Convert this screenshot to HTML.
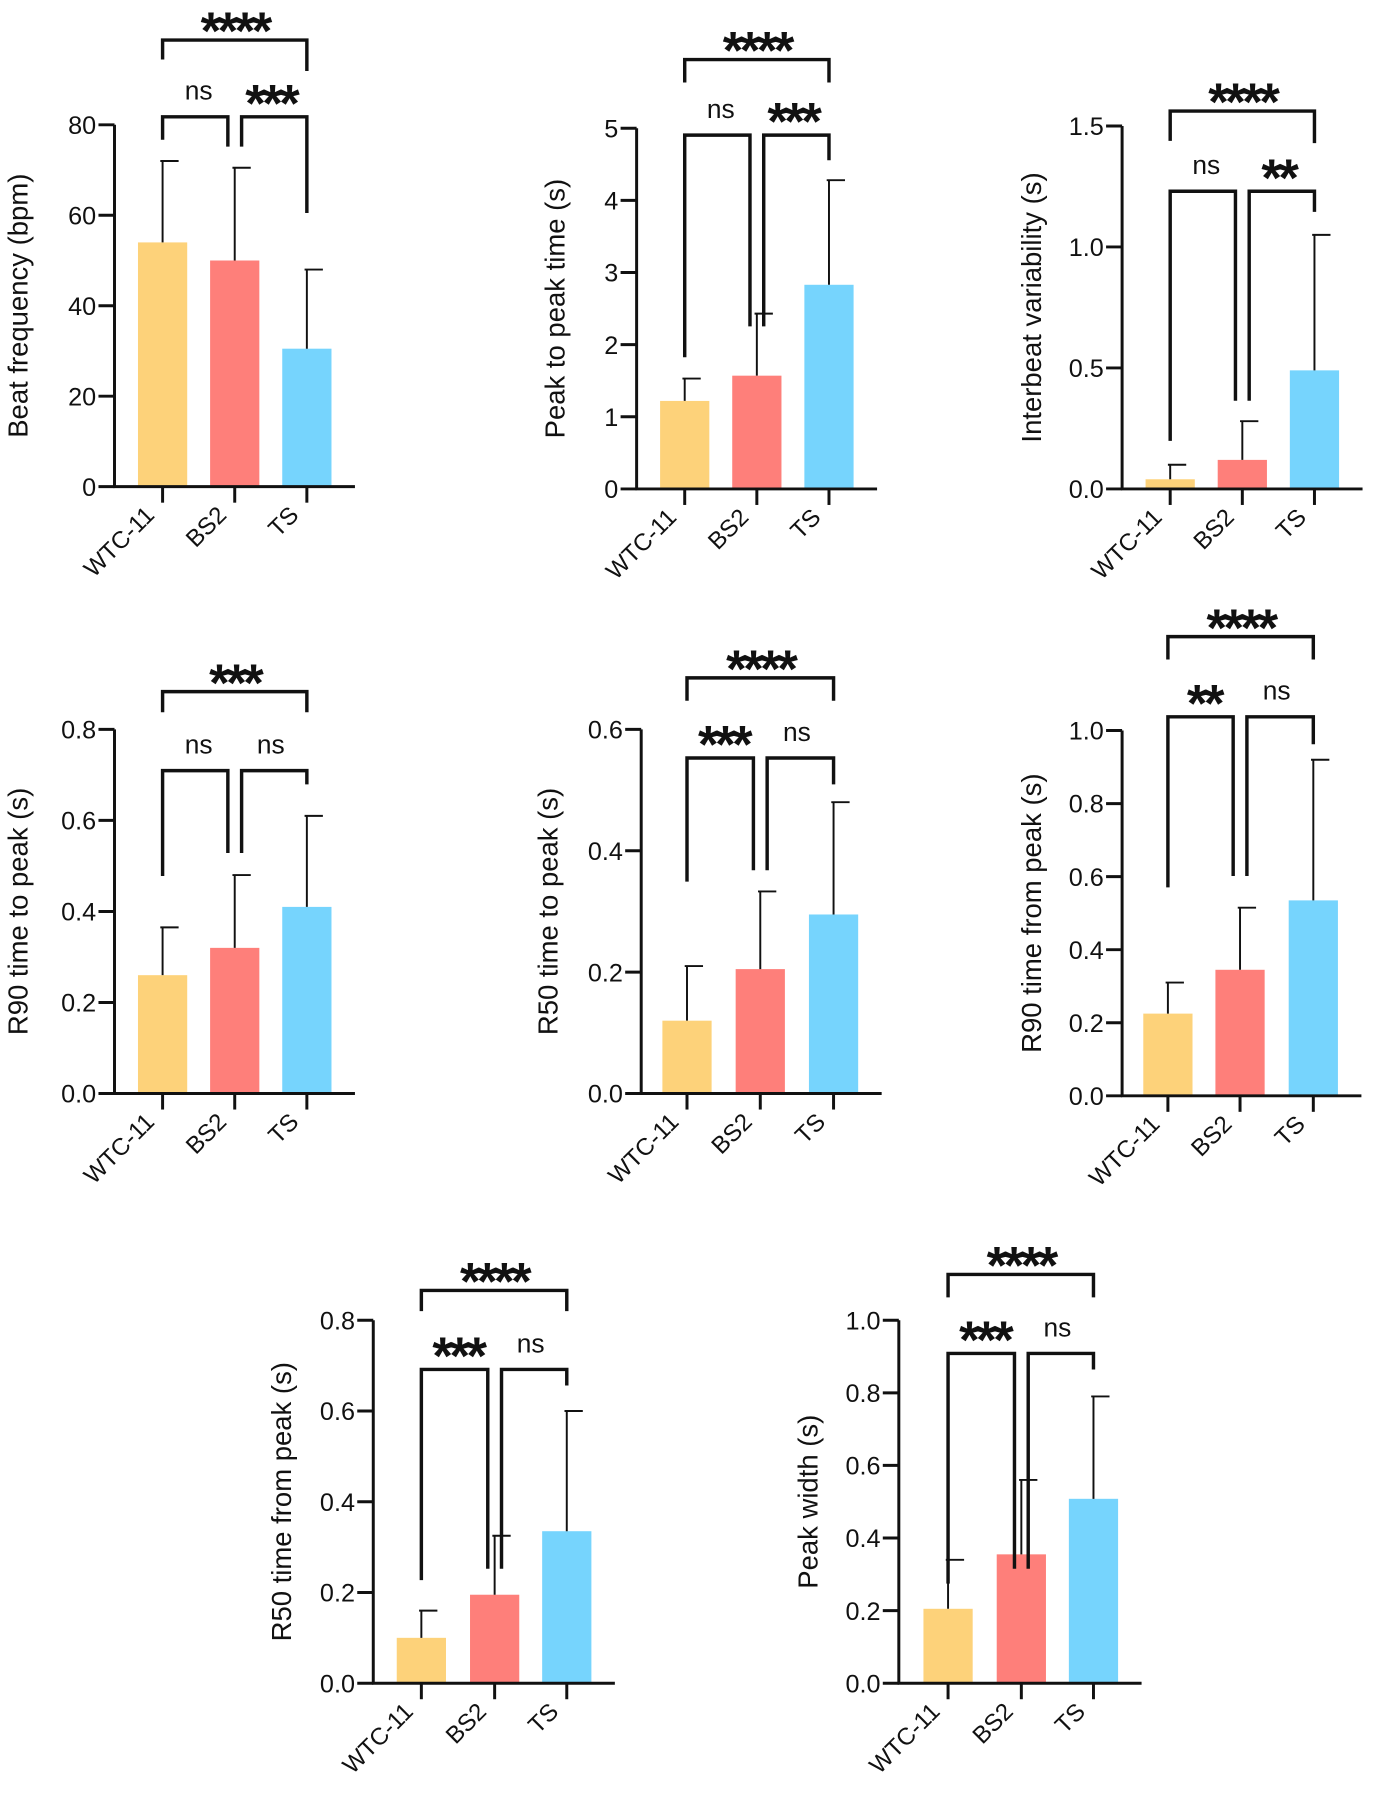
<!DOCTYPE html>
<html><head><meta charset="utf-8"><style>
html,body{margin:0;padding:0;background:#fff;}
svg{display:block;}
text{font-family:"Liberation Sans",sans-serif;fill:#111;}
</style></head><body>
<svg id="fig" width="1374" height="1800" viewBox="0 0 1200 1572" preserveAspectRatio="none" xmlns="http://www.w3.org/2000/svg"></svg>
<script>
const groups = ["WTC-11","BS2","TS"];
const colors = ["#FDD27A","#FE7F7A","#76D4FD"];
// series values (means) per panel
const meansBeat = [54, 50, 30.5];
const errsBeat = [72, 70.5, 48];
const meansP2P = [1.22, 1.57, 2.83];
const errsP2P = [1.53, 2.43, 4.28];
const meansIBV = [0.04, 0.12, 0.49];
const errsIBV = [0.1, 0.28, 1.05];
const meansR90to = [0.26, 0.32, 0.41];
const errsR90to = [0.365, 0.48, 0.61];
const meansR50to = [0.12, 0.205, 0.295];
const errsR50to = [0.21, 0.333, 0.48];
const meansR90from = [0.225, 0.345, 0.535];
const errsR90from = [0.31, 0.515, 0.92];
const meansR50from = [0.1, 0.195, 0.335];
const errsR50from = [0.16, 0.325, 0.6];
const meansWidth = [0.205, 0.355, 0.508];
const errsWidth = [0.34, 0.56, 0.79];
// tick labels
const ticksBeat = ["0","20","40","60","80"];
const ticksP2P = ["0","1","2","3","4","5"];
const ticksIBV = ["0.0","0.5","1.0","1.5"];
const ticks08 = ["0.0","0.2","0.4","0.6","0.8"];
const ticks06 = ["0.0","0.2","0.4","0.6"];
const ticks10 = ["0.0","0.2","0.4","0.6","0.8","1.0"];
// significance labels: [top, left pair, right pair]
const sigBeat = ["****","ns","***"];
const sigP2P = ["****","ns","***"];
const sigIBV = ["****","ns","**"];
const sigR90to = ["***","ns","ns"];
const sigR50to = ["****","***","ns"];
const sigR90from = ["****","**","ns"];
const sigR50from = ["****","***","ns"];
const sigWidth = ["****","***","ns"];

// layout (pixels in 1200x1572 frame)
const panels = [
 {name:"beat-frequency", label:"Beat frequency (bpm)", ax:100, y0:425, yt:109, c:[142,205,268], ticks:ticksBeat, means:meansBeat, errs:errsBeat, sig:sigBeat, top:35, topLegs:[52,62], low:102, legs:[122,128,128,186], lx:15},
 {name:"peak-to-peak", label:"Peak to peak time (s)", ax:556, y0:427, yt:112, c:[598,661,724], ticks:ticksP2P, means:meansP2P, errs:errsP2P, sig:sigP2P, top:52, topLegs:[72,72], low:118, legs:[312,285,285,140], lx:484},
 {name:"interbeat-variability", label:"Interbeat variability (s)", ax:980, y0:427, yt:110, c:[1022,1085,1148], ticks:ticksIBV, means:meansIBV, errs:errsIBV, sig:sigIBV, top:97, topLegs:[123,125], low:167, legs:[385,350,350,185], lx:900},
 {name:"r90-time-to-peak", label:"R90 time to peak (s)", ax:100, y0:955, yt:637, c:[142,205,268], ticks:ticks08, means:meansR90to, errs:errsR90to, sig:sigR90to, top:604, topLegs:[622,622], low:673, legs:[765,745,745,685], lx:15},
 {name:"r50-time-to-peak", label:"R50 time to peak (s)", ax:560, y0:955, yt:637, c:[600,664,728], ticks:ticks06, means:meansR50to, errs:errsR50to, sig:sigR50to, top:592, topLegs:[612,612], low:662, legs:[770,760,760,685], lx:478},
 {name:"r90-time-from-peak", label:"R90 time from peak (s)", ax:980, y0:957, yt:638, c:[1020,1083,1147], ticks:ticks10, means:meansR90from, errs:errsR90from, sig:sigR90from, top:556, topLegs:[576,576], low:626, legs:[775,765,765,650], lx:900},
 {name:"r50-time-from-peak", label:"R50 time from peak (s)", ax:326, y0:1470, yt:1153, c:[368,432,495], ticks:ticks08, means:meansR50from, errs:errsR50from, sig:sigR50from, top:1127, topLegs:[1145,1145], low:1196, legs:[1380,1370,1370,1210], lx:245},
 {name:"peak-width", label:"Peak width (s)", ax:785, y0:1470, yt:1153, c:[828,892,955], ticks:ticks10, means:meansWidth, errs:errsWidth, sig:sigWidth, top:1113, topLegs:[1133,1133], low:1182, legs:[1383,1370,1370,1196], lx:705}
];
const NS="http://www.w3.org/2000/svg";
const svg=document.getElementById('fig');
function mk(tag, attrs, parent){const e=document.createElementNS(NS,tag);for(const k in attrs)e.setAttribute(k,attrs[k]);(parent||svg).appendChild(e);return e;}
function path(d,w,parent){return mk('path',{d:d,stroke:'#111','stroke-width':w,fill:'none','stroke-linecap':'butt','stroke-linejoin':'miter'},parent);}

panels.forEach(p=>{
  const g=mk('g',{});
  
  
  const maxV=parseFloat(p.ticks[p.ticks.length-1]);
  const y=v=>p.y0-(v/maxV)*(p.y0-p.yt);
  const right=p.c[2]+42;
  p.means.forEach((m,i)=>{
    const r=mk('rect',{x:p.c[i]-21.5,y:y(m),width:43,height:p.y0-y(m),fill:colors[i]},g);
    
    
    const e=path('M'+p.c[i]+' '+y(m)+'V'+y(p.errs[i])+'M'+(p.c[i]-2)+' '+y(p.errs[i])+'H'+(p.c[i]+14),1.7,g);
    
    
  });
  const ya=path('M'+p.ax+' '+p.yt+'V'+p.y0,2.6,g);
  
  
  const xa=mk('line',{x1:p.ax-1,y1:p.y0,x2:right,y2:p.y0,stroke:'#111','stroke-width':2.6},g);
  
  
  p.ticks.forEach(t=>{
    const v=parseFloat(t);
    path('M'+(p.ax-14)+' '+y(v)+'H'+p.ax,2.6,g);
    const tx=mk('text',{x:p.ax-16,y:y(v)+8,'text-anchor':'end','font-size':22},g);
    tx.textContent=t;
    
    
  });
  p.c.forEach((cx,i)=>{
    path('M'+cx+' '+p.y0+'V'+(p.y0+14),2.6,g);
    const ax=cx-6, ay=p.y0+26;
    const tx=mk('text',{x:ax,y:ay,'text-anchor':'end','font-size':21,transform:'rotate(-45 '+ax+' '+ay+')'},g);
    tx.textContent=groups[i];
    
    
  });
  const cy=(p.y0+p.yt)/2;
  const yl=mk('text',{x:p.lx+9,y:cy,'text-anchor':'middle','font-size':24,transform:'rotate(-90 '+(p.lx+9)+' '+cy+')'},g);
  yl.textContent=p.label;
  
  
  const b1=path('M'+p.c[0]+' '+p.topLegs[0]+'V'+p.top+'H'+p.c[2]+'V'+p.topLegs[1],3,g);
  
  
  const b2=path('M'+p.c[0]+' '+p.legs[0]+'V'+p.low+'H'+(p.c[1]-6)+'V'+p.legs[1],3,g);
  
  
  const b3=path('M'+(p.c[1]+6)+' '+p.legs[2]+'V'+p.low+'H'+p.c[2]+'V'+p.legs[3],3,g);
  
  
  const labs=[[ (p.c[0]+p.c[2])/2, p.top-8],[ (p.c[0]+p.c[1])/2, p.low-12],[ (p.c[1]+p.c[2])/2, p.low-12]];
  p.sig.forEach((s,i)=>{
    let t;
    if(s==='ns'){
      t=mk('text',{x:labs[i][0],y:labs[i][1]-3,'text-anchor':'middle','font-size':23},g);
    } else {
      t=mk('text',{x:labs[i][0],y:labs[i][1]+16,'text-anchor':'middle','font-size':46,'font-weight':'bold','letter-spacing':'-3'},g);
    }
    t.textContent=s;
    
    
  });
});
</script>
</body></html>
